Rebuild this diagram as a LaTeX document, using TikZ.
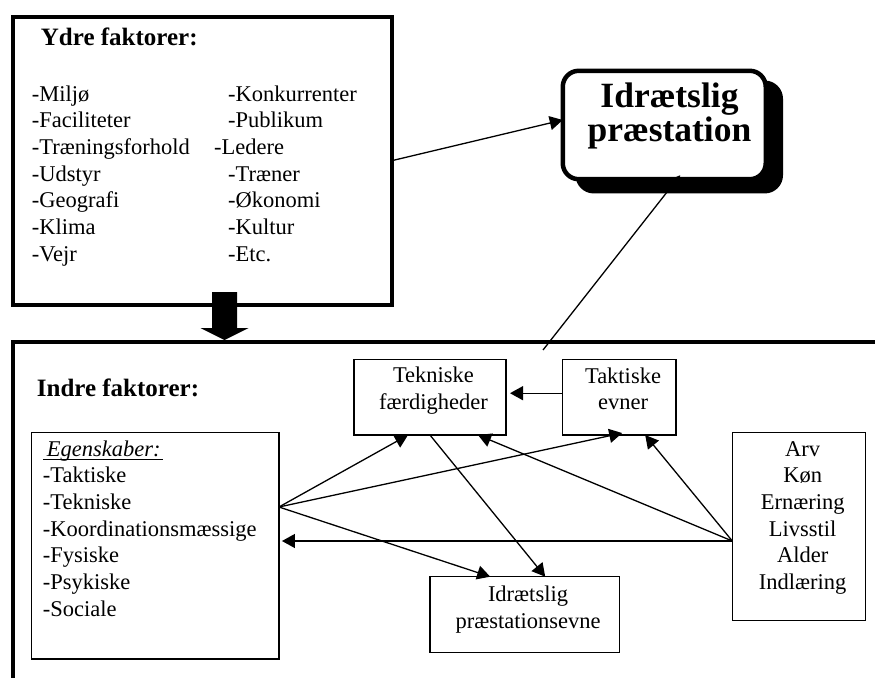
\documentclass[tikz,border=0pt]{standalone}
\usepackage{fontspec}
\setmainfont{Liberation Serif}
\usetikzlibrary{arrows.meta,shadows}

\newcommand{\bodyfont}{\fontsize{22.5}{26.7}\selectfont}
\newcommand{\headfont}{\fontsize{25}{30}\selectfont\bfseries}
\newcommand{\bigfont}{\fontsize{35.5}{34}\selectfont\bfseries}

\begin{document}
\begin{tikzpicture}[x=1pt, y=-1pt,
  thinbox/.style={draw, line width=1.5pt, inner sep=0pt, outer sep=0pt},
  fatbox/.style={draw, line width=4pt, inner sep=0pt, outer sep=0pt},
  txt/.style={font=\bodyfont, inner sep=0pt},
  pil/.style={-{Triangle[length=13pt, width=14pt]}, line width=1.3pt}]
  \useasboundingbox (0,0) rectangle (875,677);
  \clip (0,0) rectangle (875,677);

  % Ydre faktorer
  \node[fatbox, minimum width=378.5pt, minimum height=287.5pt] (ydre) at (202.25,160.75) {};
  \node[font=\headfont, inner sep=0pt, anchor=base west] (ydretitel) at (40.7,45.7) {Ydre faktorer:};
  % (base = last line)
  \node[txt, align=left, anchor=base west] (ydrev) at (31.7,261.2)
    {-Miljø\\-Faciliteter\\-Træningsforhold\\-Udstyr\\-Geografi\\-Klima\\-Vejr};
  \node[txt, align=left, anchor=base west] (ydreh) at (228,261.2)
    {-Konkurrenter\\-Publikum\\\hspace*{-14pt}-Ledere\\-Træner\\-Økonomi\\-Kultur\\-Etc.};

  % Idraetslig praestation
  \node[fatbox, line width=4.5pt, fill=white, rounded corners=16pt,
    minimum width=203pt, minimum height=108.4pt,
    drop shadow={shadow xshift=15pt, shadow yshift=-12pt, opacity=1, fill=black, draw=black, line width=4.5pt}]
    (idr) at (664.25,125) {};
  \node[font=\bigfont, inner sep=0pt, align=center, anchor=base] (idrtxt) at (669.5,141.3) {Idrætslig\\præstation};

  % Indre faktorer (only top and left edge on the page)
  \node[fatbox, minimum width=900pt, minimum height=400pt, anchor=north west] (indre) at (13,342) {};
  \node[font=\headfont, inner sep=0pt, anchor=base west] (indretitel) at (36.7,396) {Indre faktorer:};

  % block arrow
  \coordinate (blk) at (224.5,292);
  \fill (blk) ++(-12.5,0) -- ++(0,36) -- ++(-11.5,0) -- ++(24,12) -- ++(24,-12)
    -- ++(-11.5,0) -- ++(0,-36) -- cycle;

  % boxes
  \node[thinbox, minimum width=152pt, minimum height=75.7pt] (tek) at (430,397.2) {};
  \node[thinbox, minimum width=113.7pt, minimum height=75.7pt] (tak) at (619.2,397.2) {};
  \node[thinbox, minimum width=247.3pt, minimum height=226.7pt] (egen) at (155.3,545.7) {};
  \node[thinbox, minimum width=189.3pt, minimum height=76pt] (evne) at (524.7,614.7) {};
  \node[thinbox, minimum width=133.4pt, minimum height=188.4pt] (arv) at (799,526.5) {};

  \node[txt, align=center, anchor=base] (tektxt) at (433.5,409.6) {Tekniske\\færdigheder};
  \node[txt, align=center, anchor=base] (taktxt) at (623,409.8) {Taktiske\\evner};
  \node[txt, align=center, anchor=base] (evnetxt) at (528,628.4) {Idrætslig\\præstationsevne};
  \node[txt, align=center, anchor=base] (arvtxt) at (802.7,589.5)
    {Arv\\Køn\\Ernæring\\Livsstil\\Alder\\Indlæring};
  \node[txt, align=left, anchor=base west] (egentxt) at (42.7,616.2)
    {\makebox[0pt][l]{\rule[-4pt]{120pt}{1.2pt}}\hspace*{4pt}\textit{Egenskaber:}\\-Taktiske\\-Tekniske\\-Koordinationsmæssige\\-Fysiske\\-Psykiske\\-Sociale};

  % arrows
  \coordinate (eg) at ([yshift=38.7pt]egen.east);
  \coordinate (av) at ([yshift=-14.5pt]arv.west);
  \coordinate (opad) at (543,350);
  \draw[pil] (ydre.east) -- ([yshift=5pt]idr.west);
  \draw[pil] (opad) -- ([xshift=16pt,yshift=4pt]idr.south);
  \draw[pil] ([yshift=4pt]tak.west) -- ([xshift=4pt,yshift=4pt]tek.east);
  \draw[pil] (eg) -- ([xshift=-22pt]tek.south);
  \draw[pil] (eg) -- ([xshift=3pt,yshift=2pt]tak.south);
  \draw[pil] (eg) -- ([xshift=-34.5pt]evne.north);
  \draw[pil] (tek.south) -- ([xshift=20.5pt]evne.north);
  \draw[pil] (av) -- ([xshift=48pt]tek.south);
  \draw[pil] (av) -- ([xshift=26pt]tak.south);
  \draw[pil, shorten >=3pt] (av) -- (av -| egen.east);
\end{tikzpicture}
\end{document}
